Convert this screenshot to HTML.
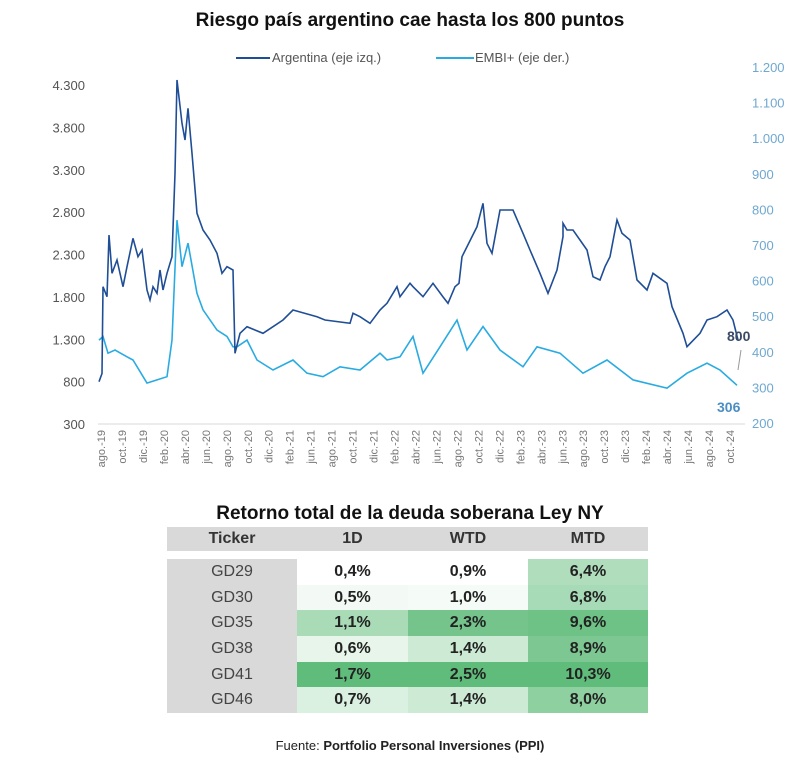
<!DOCTYPE html>
<html><head><meta charset="utf-8"><style>
body{margin:0;background:#fff;font-family:"Liberation Sans",sans-serif;}
#wrap{position:relative;width:800px;height:760px;overflow:hidden;}
table{position:absolute;left:167px;top:527px;border-collapse:collapse;font-size:16px;}
td,th{height:25.7px;padding:0;text-align:center;}
th{background:#d9d9d9;font-weight:bold;color:#333;height:24px;}
td.tk{background:#d9d9d9;color:#444;}
td.v{font-weight:bold;color:#222;}
</style></head><body><div id="wrap">
<svg id="chart" width="800" height="500" style="position:absolute;left:0;top:0"></svg>
<div style="position:absolute;left:0;width:820px;top:503px;text-align:center;font-weight:bold;font-size:19px;color:#111">Retorno total de la deuda soberana Ley NY</div>
<table>
<tr><th style="width:130px">Ticker</th><th style="width:111px">1D</th><th style="width:120px">WTD</th><th style="width:120px">MTD</th></tr>
<tr style="height:8px"><td colspan="4" style="height:8px"></td></tr>
<tbody id="tb"></tbody>
</table>
<div style="position:absolute;left:0;width:820px;top:738px;text-align:center;font-size:13px;color:#222">Fuente: <b>Portfolio Personal Inversiones (PPI)</b></div>
</div>
<script>
const xLabels=["ago.-19","oct.-19","dic.-19","feb.-20","abr.-20","jun.-20","ago.-20","oct.-20","dic.-20","feb.-21","jun.-21","ago.-21","oct.-21","dic.-21","feb.-22","abr.-22","jun.-22","ago.-22","oct.-22","dic.-22","feb.-23","abr.-23","jun.-23","ago.-23","oct.-23","dic.-23","feb.-24","abr.-24","jun.-24","ago.-24","oct.-24"];
const leftTicks=[300,800,1300,1800,2300,2800,3300,3800,4300];
const rightTicks=[200,300,400,500,600,700,800,900,1000,1100,1200];
const argT=[-0.2,0.1,0.2,0.6,0.8,1.1,1.6,2.2,2.6,3.2,3.7,4.1,4.6,4.9,5.2,5.6,5.9,6.2,6.6,7.1,7.4,7.6,8.1,8.4,8.7,9.1,9.6,10.2,10.9,11.6,12.1,12.6,13.2,13.4,13.9,14.6,16.2,17.2,18.2,19.2,21.6,22.4,24.9,25.2,25.9,26.9,27.9,28.6,29.6,29.9,30.9,31.2,32.2,33.2,34.2,34.7,35.4,35.8,36.1,37.6,38.2,38.6,39.1,39.9,41.2,42.2,42.9,43.9,44.7,45.6,46.2,46.2,46.6,47.2,48.6,49.2,49.9,50.4,50.9,51.6,52.1,52.9,53.6,54.6,55.2,56.6,57.1,58.2,58.6,59.9,60.6,61.6,62.6,63.2,63.7];
const argV=[799,896,1920,1802,2530,2078,2235,1920,2156,2491,2274,2353,1881,1763,1920,1842,2117,1881,2078,2274,3258,4359,3848,3651,4025,3494,2786,2589,2471,2314,2078,2156,2117,1134,1370,1448,1370,1448,1527,1645,1566,1527,1488,1606,1566,1488,1645,1724,1920,1802,1960,1920,1802,1960,1800,1724,1920,1960,2274,2628,2904,2432,2314,2825,2825,2550,2353,2078,1842,2117,2510,2668,2589,2589,2353,2038,1999,2156,2274,2707,2550,2471,1999,1881,2078,1960,1684,1370,1212,1370,1527,1566,1645,1527,1291,1055,858];
const embiT=[-0.2,0.2,0.7,1.4,2.6,3.2,4.6,5.6,6.6,7.1,7.6,8.1,8.7,9.6,10.2,11.6,12.6,13.2,13.6,14.6,15.6,17.2,19.2,20.6,22.2,23.9,25.9,27.9,28.6,29.9,31.2,32.2,33.9,35.6,36.6,38.2,39.9,42.2,43.6,45.9,48.2,50.6,53.2,56.6,58.6,60.6,61.9,63.6];
const embiV=[433,443,396,405,386,377,312,321,330,433,770,639,705,564,518,461,443,414,414,433,377,349,377,340,330,358,349,396,377,386,443,340,414,489,405,471,405,358,414,396,340,377,321,298,340,368,349,306];
const tickers=["GD29","GD30","GD35","GD38","GD41","GD46"];
const d1=[0.4,0.5,1.1,0.6,1.7,0.7];
const wtd=[0.9,1.0,2.3,1.4,2.5,1.4];
const mtd=[6.4,6.8,9.6,8.9,10.3,8.0];

const NS="http://www.w3.org/2000/svg";
const svg=document.getElementById('chart');
function mk(tag,attrs,txt){const e=document.createElementNS(NS,tag);for(const k in attrs)e.setAttribute(k,attrs[k]);if(txt!==undefined)e.textContent=txt;svg.appendChild(e);return e;}
const xS=t=>101+t*10;
const yL=v=>424-(v-300)*0.08475;
const yR=v=>423-(v-200)*0.356;
const LF='"Liberation Sans",sans-serif';
let e;
e=mk('text',{x:410,y:26,'text-anchor':'middle','font-size':19,'font-weight':'bold',fill:'#111','font-family':LF},'Riesgo país argentino cae hasta los 800 puntos');


e=mk('line',{x1:236,x2:270,y1:58,y2:58,stroke:'#1f4e96','stroke-width':2});


e=mk('text',{x:272,y:62,'font-size':13,fill:'#555','font-family':LF},'Argentina (eje izq.)');


e=mk('line',{x1:436,x2:474,y1:58,y2:58,stroke:'#29abe2','stroke-width':2});


e=mk('text',{x:475,y:62,'font-size':13,fill:'#555','font-family':LF},'EMBI+ (eje der.)');


e=mk('line',{x1:98,x2:745,y1:424,y2:424,stroke:'#d9d9d9','stroke-width':1});


leftTicks.forEach(v=>{e=mk('text',{x:85,y:yL(v)+5,'text-anchor':'end','font-size':13,fill:'#555','font-family':LF},v.toLocaleString('de-DE'));

});
rightTicks.forEach(v=>{e=mk('text',{x:752,y:yR(v)+5,'font-size':13,fill:'#6fa8d0','font-family':LF},v.toLocaleString('de-DE'));

});
xLabels.forEach((l,i)=>{const x=101+i*(629/30);e=mk('text',{x:0,y:0,transform:`translate(${x+4},430) rotate(-90)`,'text-anchor':'end','font-size':11,fill:'#777','font-family':LF},l);

});
e=mk('path',{d:embiT.map((t,i)=>(i?'L':'M')+xS(t).toFixed(1)+','+yR(embiV[i]).toFixed(1)).join(''),fill:'none',stroke:'#29abe2','stroke-width':1.6});


e=mk('path',{d:argT.map((t,i)=>(i?'L':'M')+xS(t).toFixed(1)+','+yL(argV[i]).toFixed(1)).join(''),fill:'none',stroke:'#1f4e96','stroke-width':1.6});


e=mk('line',{x1:738,y1:370,x2:741,y2:350,stroke:'#999','stroke-width':1});


e=mk('text',{x:727,y:341,'font-size':14,'font-weight':'bold',fill:'#3a4a66','font-family':LF},'800');


e=mk('text',{x:717,y:412,'font-size':14,'font-weight':'bold',fill:'#4a8ec4','font-family':LF},String(embiV[embiV.length-1]));



function col(v,arr,minG){const mn=Math.min(...arr),mx=Math.max(...arr);const f=minG+(1-minG)*(v-mn)/(mx-mn||1);
const r=Math.round(255+(96-255)*f),g=Math.round(255+(188-255)*f),b=Math.round(255+(122-255)*f);return `rgb(${r},${g},${b})`;}
const fmt=v=>v.toFixed(1).replace('.',',')+'%';
const tb=document.getElementById('tb');
tickers.forEach((t,i)=>{const tr=document.createElement('tr');


let td=document.createElement('td');td.className='tk';td.textContent=t;


tr.appendChild(td);
[[d1,0],[wtd,0],[mtd,0.5]].forEach(([arr,mg],j)=>{const c=document.createElement('td');c.className='v';c.textContent=fmt(arr[i]);c.style.background=col(arr[i],arr,mg);


tr.appendChild(c);});
tb.appendChild(tr);});
</script></body></html>
